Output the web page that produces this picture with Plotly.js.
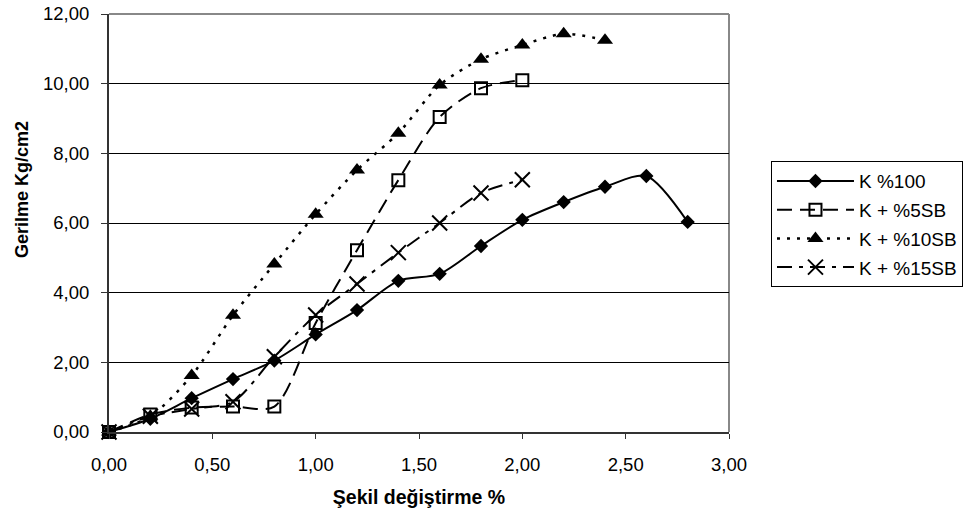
<!DOCTYPE html>
<html>
<head>
<meta charset="utf-8">
<script src="https://cdn.plot.ly/plotly-3.0.1.min.js"></script>
<style>html,body{margin:0;padding:0;background:#fff;}#chart{width:971px;height:517px;}</style>
</head>
<body>
<div id="chart"></div>
<script>
// Data
var seriesNames = ["K %100", "K + %5SB", "K + %10SB", "K + %15SB"];
var xK100 = [0, 0.2, 0.4, 0.6, 0.8, 1.0, 1.2, 1.4, 1.6, 1.8, 2.0, 2.2, 2.4, 2.6, 2.8];
var yK100 = [0, 0.38, 0.97, 1.52, 2.05, 2.8, 3.5, 4.34, 4.54, 5.34, 6.09, 6.6, 7.04, 7.35, 6.03];
var xSB5 = [0, 0.2, 0.4, 0.6, 0.8, 1.0, 1.2, 1.4, 1.6, 1.8, 2.0];
var ySB5 = [0, 0.5, 0.7, 0.73, 0.73, 3.13, 5.22, 7.23, 9.04, 9.87, 10.1];
var xSB10 = [0, 0.2, 0.4, 0.6, 0.8, 1.0, 1.2, 1.4, 1.6, 1.8, 2.0, 2.2, 2.4];
var ySB10 = [0, 0.45, 1.62, 3.35, 4.82, 6.25, 7.52, 8.58, 9.96, 10.7, 11.11, 11.43, 11.25];
var xSB15 = [0, 0.2, 0.4, 0.6, 0.8, 1.0, 1.2, 1.4, 1.6, 1.8, 2.0];
var ySB15 = [0, 0.45, 0.66, 0.87, 2.16, 3.36, 4.25, 5.15, 6.0, 6.86, 7.24];
var xTickVals = [0, 0.5, 1.0, 1.5, 2.0, 2.5, 3.0];
var yTickVals = [0, 2, 4, 6, 8, 10, 12];
var xTitle = "Şekil değiştirme %";
var yTitle = "Gerilme Kg/cm2";

var FONT = "Liberation Sans, Arial, sans-serif";

var traces = [
  {x: xK100, y: yK100, name: seriesNames[0], legendgroup: "a", mode: "lines+markers", cliponaxis: false,
   line: {color: "#000", width: 2, shape: "spline", smoothing: 0.8},
   marker: {symbol: "diamond", size: 11, color: "#000"}},
  {x: xSB5, y: ySB5, name: seriesNames[1], legendgroup: "b", mode: "lines+markers", cliponaxis: false,
   line: {color: "#000", width: 2, shape: "spline", smoothing: 0.8, dash: "15px,8px"},
   marker: {symbol: "square-open", size: 12, color: "#000", line: {width: 2, color: "#000"}}},
  {x: xSB10, y: ySB10, name: seriesNames[2], legendgroup: "c", mode: "lines+markers", cliponaxis: false,
   line: {color: "#000", width: 2.5, shape: "spline", smoothing: 0.8, dash: "3px,7px"},
   marker: {symbol: "triangle-up", size: 14, color: "#000"}},
  {x: xSB15, y: ySB15, name: seriesNames[3], legendgroup: "d", mode: "lines+markers", cliponaxis: false,
   line: {color: "#000", width: 2, shape: "spline", smoothing: 0.8, dash: "15px,7px,4px,7px"},
   marker: {symbol: "x-thin-open", size: 15, color: "#000", line: {width: 2, color: "#000"}}}
];

var layout = {
  width: 971, height: 517,
  margin: {l: 109, r: 242, t: 14, b: 85, autoexpand: false},
  paper_bgcolor: "#fff", plot_bgcolor: "#fff",
  separators: ",.",
  font: {family: FONT, size: 18, color: "#000"},
  showlegend: true,
  legend: {
    x: 1.0677, y: 0.648, xanchor: "left", yanchor: "top",
    bordercolor: "#000", borderwidth: 1, bgcolor: "#fff",
    font: {family: FONT, size: 19, color: "#000"},
    tracegroupgap: 1, itemwidth: 77
  },
  xaxis: {
    range: [0, 3], tickvals: xTickVals, tickformat: ".2f",
    showgrid: false, zeroline: false,
    showline: true, linecolor: "#333", linewidth: 2,
    ticks: "outside", ticklen: 5, tickcolor: "#333", tickwidth: 1,
    ticklabelstandoff: 10,
    tickfont: {family: FONT, size: 18.5, color: "#000"},
    title: {text: xTitle, font: {family: FONT, size: 19.5, color: "#000", weight: "bold"}, standoff: 16}
  },
  yaxis: {
    range: [0, 12], tickvals: yTickVals, tickformat: ".2f",
    showgrid: true, gridcolor: "#000", gridwidth: 1, zeroline: false,
    showline: true, linecolor: "#333", linewidth: 2,
    ticks: "outside", ticklen: 6, tickcolor: "#333", tickwidth: 1,
    ticklabelstandoff: 8,
    tickfont: {family: FONT, size: 18.5, color: "#000"}
  },
  annotations: [
    {text: "<b>" + yTitle + "</b>", xref: "paper", yref: "paper", x: -0.1403, y: 0.579,
     xanchor: "center", yanchor: "middle", textangle: -90, showarrow: false,
     font: {family: FONT, size: 18, color: "#000"}}
  ],
  shapes: [
    {type: "line", xref: "paper", yref: "paper", x0: 0, x1: 1, y0: 1, y1: 1, line: {color: "#888", width: 2}, layer: "below"},
    {type: "line", xref: "paper", yref: "paper", x0: 1, x1: 1, y0: 0, y1: 1, line: {color: "#888", width: 2}, layer: "below"}
  ]
};

Plotly.newPlot("chart", traces, layout, {displayModeBar: false, staticPlot: true});
</script>
</body>
</html>
